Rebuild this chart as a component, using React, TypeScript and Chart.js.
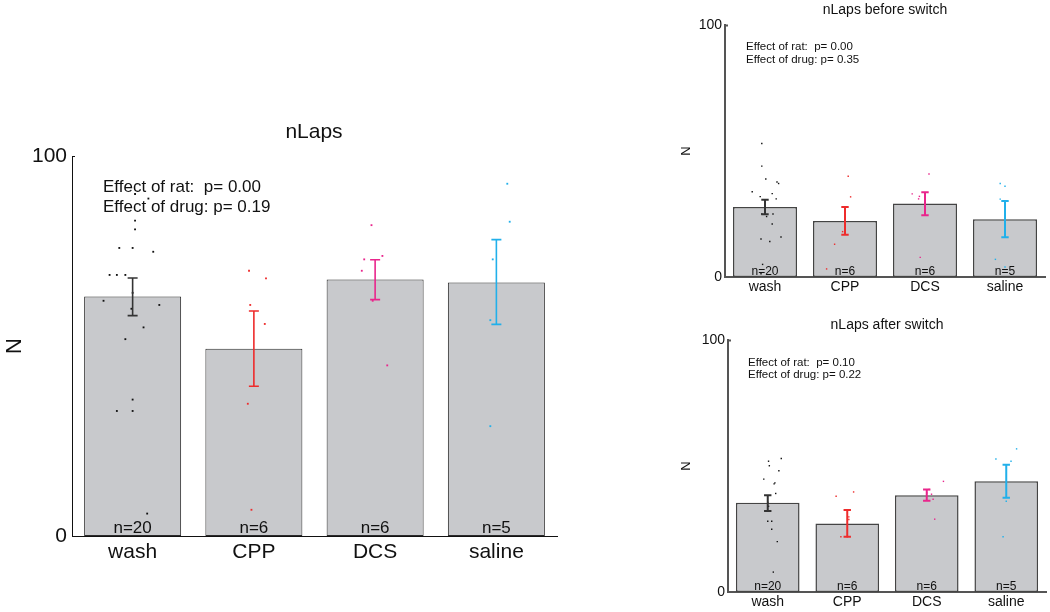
import React, { useEffect, useRef } from 'react';
import { Chart, registerables } from 'chart.js';

Chart.register(...registerables);

// ---------- data ----------
const categories = ['wash', 'CPP', 'DCS', 'saline'];
const groupCounts = [20, 6, 6, 5];
const pointColors = ['#111111', '#ee2c2c', '#e9268c', '#21b0ea'];
const errColors = ['#333333', '#ee2c2c', '#e9268c', '#21b0ea'];
const yTickValues = [0, 100];

// nLaps (main)
const mainMeans = [63, 49.3, 67.5, 66.7];
const mainErrLow = [58, 39.4, 62.2, 55.7];
const mainErrHigh = [67.9, 59.2, 72.7, 78];
const mainWashPts = [90, 88.8, 83, 80.7, 75.8, 75.8, 74.8, 68.7, 68.7, 68.7, 64, 61.9, 60.8, 59.8, 54.9, 51.8, 35.9, 32.9, 32.9, 5.9];
const mainWashJit = [0.02, 0.13, 0.02, 0.02, -0.11, 0, 0.17, -0.19, -0.13, -0.06, 0, -0.24, 0.22, -0.01, 0.09, -0.06, 0, -0.13, 0, 0.12];
const mainCppPts = [69.8, 67.8, 60.8, 55.8, 34.8, 6.9];
const mainCppJit = [-0.04, 0.1, -0.03, 0.09, -0.05, -0.02];
const mainDcsPts = [81.8, 73.7, 72.8, 69.8, 61.9, 44.9];
const mainDcsJit = [-0.03, 0.06, -0.09, -0.11, -0.02, 0.1];
const mainSalPts = [92.7, 82.7, 72.8, 56.8, 28.9];
const mainSalJit = [0.09, 0.11, -0.03, -0.05, -0.05];
const mainStats = ['Effect of rat:  p= 0.00', 'Effect of drug: p= 0.19'];

// nLaps before switch
const befMeans = [27.8, 22.2, 29.2, 22.9];
const befErrLow = [24.9, 16.8, 24.5, 15.8];
const befErrHigh = [30.7, 27.8, 33.6, 30.2];
const befWashPts = [53, 44, 38.9, 37.7, 37.1, 33.8, 33.1, 31.9, 31, 25, 25, 24, 21, 15.9, 15.1, 14.1, 5, 1.3];
const befWashJit = [-0.04, -0.04, 0.01, 0.15, 0.17, -0.16, 0.09, -0.06, 0.14, -0.04, 0.1, 0.02, 0.09, 0.2, -0.05, 0.06, -0.03, -0.05];
const befCppPts = [40, 31.8, 25, 18, 13, 3.2];
const befCppJit = [0.04, 0.07, 0, -0.03, -0.13, -0.23];
const befDcsPts = [40.9, 33, 32, 31, 28, 7.8];
const befDcsJit = [0.05, -0.16, -0.07, -0.08, 0, -0.06];
const befSalPts = [37.1, 36, 30.9, 7, 4];
const befSalJit = [-0.06, 0, -0.06, -0.12, 0];
const befStats = ['Effect of rat:  p= 0.00', 'Effect of drug: p= 0.35'];

// nLaps after switch
const aftMeans = [35.4, 27.2, 38.4, 43.9];
const aftErrLow = [32.1, 21.9, 36.2, 37.4];
const aftErrHigh = [38.4, 32.5, 40.7, 50.5];
const aftWashPts = [53, 51.9, 50.1, 48.1, 44.8, 43.3, 42.9, 39.1, 35.5, 34, 32.1, 28.1, 28.1, 24.9, 20, 7.9];
const aftWashJit = [0.17, 0.01, 0.02, 0.14, -0.05, 0.09, 0.08, 0.1, 0, 0.01, 0.03, 0, 0.05, 0.05, 0.12, 0.07];
const aftCppPts = [39.7, 38, 29.8, 28.8, 21.9, 21.9];
const aftCppJit = [0.08, -0.14, 0.02, 0.02, -0.08, 0];
const aftDcsPts = [43.9, 40.7, 39.3, 38.8, 36.8, 28.9];
const aftDcsJit = [0.21, 0.03, 0, 0.06, 0.08, 0.1];
const aftSalPts = [56.8, 52.8, 51.9, 36, 21.9];
const aftSalJit = [0.13, -0.13, 0.06, 0, -0.04];
const aftStats = ['Effect of rat:  p= 0.10', 'Effect of drug: p= 0.22'];

// ---------- layout / style ----------
const W = 1050;
const H = 612;
const FONT = '"Liberation Sans", Arial, Helvetica, sans-serif';

type Spec = {
  title: string;
  means: number[];
  errLow: number[];
  errHigh: number[];
  pts: number[][];
  jit: number[][];
  stats: string[];
  area: { left: number; right: number; top: number; bottom: number };
  yAxisW: number;
  xAxisH: number;
  titlePos: [number, number];
  titleSize: number;
  nLabelPos: [number, number];
  nLabelSize: number;
  tickSize: number;
  tickPad: number;
  catSize: number;
  catPad: number;
  countSize: number;
  countOffset: number;
  statsPos: [number, number];
  statsSize: number;
  statsGap: number;
  axisColor: string;
  axisWidth: number;
  barBorder: string;
  barBorderWidth: number;
  errWidth: number;
  capHalf: number;
  pointRadius: number;
  topTick: number;
};

const specs: Spec[] = [
  {
    title: 'nLaps',
    means: mainMeans, errLow: mainErrLow, errHigh: mainErrHigh,
    pts: [mainWashPts, mainCppPts, mainDcsPts, mainSalPts],
    jit: [mainWashJit, mainCppJit, mainDcsJit, mainSalJit],
    stats: mainStats,
    area: { left: 72, right: 557, top: 156, bottom: 536 },
    yAxisW: 60, xAxisH: 40,
    titlePos: [314, 138], titleSize: 21,
    nLabelPos: [15, 346], nLabelSize: 22,
    tickSize: 21, tickPad: 5,
    catSize: 21, catPad: 4,
    countSize: 17, countOffset: 3,
    statsPos: [103, 192], statsSize: 17, statsGap: 20,
    axisColor: '#111111', axisWidth: 1,
    barBorder: '#2b2b2b', barBorderWidth: 1,
    errWidth: 1.6, capHalf: 5, pointRadius: 1.3, topTick: 3,
  },
  {
    title: 'nLaps before switch',
    means: befMeans, errLow: befErrLow, errHigh: befErrHigh,
    pts: [befWashPts, befCppPts, befDcsPts, befSalPts],
    jit: [befWashJit, befCppJit, befDcsJit, befSalJit],
    stats: befStats,
    area: { left: 725, right: 1045, top: 25, bottom: 277 },
    yAxisW: 40, xAxisH: 25,
    titlePos: [885, 14], titleSize: 14,
    nLabelPos: [686, 151], nLabelSize: 13,
    tickSize: 14, tickPad: 3,
    catSize: 14, catPad: 2,
    countSize: 12, countOffset: 2.5,
    statsPos: [746, 50], statsSize: 11.5, statsGap: 13.3,
    axisColor: '#555555', axisWidth: 2,
    barBorder: '#444444', barBorderWidth: 1.5,
    errWidth: 2, capHalf: 3.7, pointRadius: 1, topTick: 3,
  },
  {
    title: 'nLaps after switch',
    means: aftMeans, errLow: aftErrLow, errHigh: aftErrHigh,
    pts: [aftWashPts, aftCppPts, aftDcsPts, aftSalPts],
    jit: [aftWashJit, aftCppJit, aftDcsJit, aftSalJit],
    stats: aftStats,
    area: { left: 728, right: 1047, top: 340, bottom: 592 },
    yAxisW: 40, xAxisH: 20,
    titlePos: [887, 328.5], titleSize: 14,
    nLabelPos: [686, 466], nLabelSize: 13,
    tickSize: 14, tickPad: 3,
    catSize: 14, catPad: 1.5,
    countSize: 12, countOffset: 2.5,
    statsPos: [748, 365.5], statsSize: 11.5, statsGap: 12.7,
    axisColor: '#555555', axisWidth: 2,
    barBorder: '#444444', barBorderWidth: 1.5,
    errWidth: 2, capHalf: 3.7, pointRadius: 1, topTick: 3,
  },
];

function decoPlugin(spec: Spec) {
  return {
    id: 'deco',
    afterDatasetsDraw(chart: any) {
      const ctx = chart.ctx;
      const xs = chart.scales.x;
      const ys = chart.scales.y;
      ctx.save();
      ctx.lineWidth = spec.errWidth;
      spec.errLow.forEach((lo, i) => {
        const cx = xs.getPixelForValue(i);
        const yLo = ys.getPixelForValue(lo);
        const yHi = ys.getPixelForValue(spec.errHigh[i]);
        ctx.strokeStyle = errColors[i];
        ctx.beginPath();
        ctx.moveTo(cx, yLo);
        ctx.lineTo(cx, yHi);
        ctx.moveTo(cx - spec.capHalf, yLo);
        ctx.lineTo(cx + spec.capHalf, yLo);
        ctx.moveTo(cx - spec.capHalf, yHi);
        ctx.lineTo(cx + spec.capHalf, yHi);
        ctx.stroke();
      });
      ctx.restore();
    },
    afterDraw(chart: any) {
      const ctx = chart.ctx;
      const xs = chart.scales.x;
      const ys = chart.scales.y;
      const ca = chart.chartArea;
      ctx.save();
      // inward tick at top of y axis
      ctx.strokeStyle = spec.axisColor;
      ctx.lineWidth = spec.axisWidth;
      const yTop = ys.getPixelForValue(100);
      ctx.beginPath();
      ctx.moveTo(ca.left, yTop + 0.5);
      ctx.lineTo(ca.left + spec.topTick, yTop + 0.5);
      ctx.stroke();
      // title
      ctx.fillStyle = '#111111';
      ctx.textAlign = 'center';
      ctx.textBaseline = 'alphabetic';
      ctx.font = `${spec.titleSize}px ${FONT}`;
      ctx.fillText(spec.title, spec.titlePos[0], spec.titlePos[1]);
      // y label
      ctx.save();
      ctx.translate(spec.nLabelPos[0], spec.nLabelPos[1]);
      ctx.rotate(-Math.PI / 2);
      ctx.textBaseline = 'middle';
      ctx.font = `${spec.nLabelSize}px ${FONT}`;
      ctx.fillText('N', 0, 0);
      ctx.restore();
      // counts
      ctx.font = `${spec.countSize}px ${FONT}`;
      ctx.textBaseline = 'alphabetic';
      groupCounts.forEach((n, i) => {
        ctx.fillText(`n=${n}`, xs.getPixelForValue(i), ca.bottom - spec.countOffset);
      });
      // stats
      ctx.textAlign = 'left';
      ctx.font = `${spec.statsSize}px ${FONT}`;
      spec.stats.forEach((s, k) => {
        ctx.fillText(s, spec.statsPos[0], spec.statsPos[1] + k * spec.statsGap);
      });
      ctx.restore();
    },
  };
}

function buildConfig(spec: Spec): any {
  const a = spec.area;
  const scatterSets = spec.pts.map((vals, i) => ({
    type: 'scatter',
    xAxisID: 'xl',
    yAxisID: 'y',
    order: 1,
    data: vals.map((v, k) => ({ x: i + spec.jit[i][k], y: v })),
    pointStyle: 'rect',
    pointRadius: spec.pointRadius,
    pointBorderWidth: 0,
    pointBackgroundColor: pointColors[i],
    showLine: false,
  }));
  return {
    type: 'bar',
    data: {
      labels: categories,
      datasets: [
        {
          type: 'bar',
          xAxisID: 'x',
          yAxisID: 'y',
          order: 2,
          grouped: false,
          data: spec.means,
          backgroundColor: '#c8c9cc',
          borderColor: spec.barBorder,
          borderWidth: spec.barBorderWidth,
          borderSkipped: false,
          barPercentage: 0.8,
          categoryPercentage: 1,
        },
        ...scatterSets,
      ],
    },
    options: {
      responsive: false,
      animation: false,
      events: [],
      layout: {
        padding: {
          left: a.left - spec.yAxisW,
          right: W - a.right,
          top: a.top,
          bottom: H - a.bottom - spec.xAxisH,
        },
      },
      plugins: { legend: { display: false }, tooltip: { enabled: false }, title: { display: false } },
      scales: {
        x: {
          type: 'category',
          offset: true,
          grid: { display: false, drawTicks: false, offset: true },
          border: { display: true, color: spec.axisColor, width: spec.axisWidth },
          ticks: { font: { family: FONT, size: spec.catSize }, color: '#111111', padding: spec.catPad, maxRotation: 0, minRotation: 0, autoSkip: false },
          afterFit: (s: any) => { s.height = spec.xAxisH; },
        },
        xl: {
          type: 'linear',
          display: false,
          offset: false,
          grid: { offset: false },
          min: -0.5,
          max: 3.5,
        },
        y: {
          type: 'linear',
          min: 0,
          max: 100,
          afterBuildTicks: (s: any) => { s.ticks = yTickValues.map((v) => ({ value: v })); },
          grid: { display: false, drawTicks: false },
          border: { display: true, color: spec.axisColor, width: spec.axisWidth },
          ticks: { font: { family: FONT, size: spec.tickSize }, color: '#111111', padding: spec.tickPad },
          afterFit: (s: any) => { s.width = spec.yAxisW; },
        },
      },
    },
    plugins: [decoPlugin(spec)],
  };
}

function Panel({ spec }: { spec: Spec }) {
  const ref = useRef<HTMLCanvasElement>(null);
  useEffect(() => {
    const chart = new Chart(ref.current as HTMLCanvasElement, buildConfig(spec));
    return () => chart.destroy();
  }, [spec]);
  return (
    <canvas
      ref={ref}
      width={W}
      height={H}
      style={{ position: 'absolute', left: 0, top: 0, width: W, height: H }}
    />
  );
}

export default function App() {
  return (
    <div style={{ position: 'fixed', left: 0, top: 0, width: W, height: H, background: '#ffffff' }}>
      {specs.map((s) => (
        <Panel key={s.title} spec={s} />
      ))}
    </div>
  );
}
